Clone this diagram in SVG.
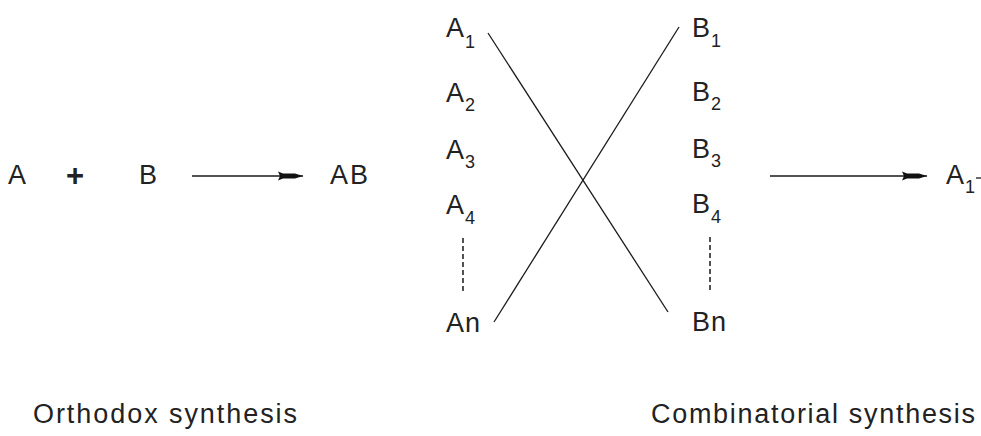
<svg xmlns="http://www.w3.org/2000/svg" width="981" height="436" viewBox="0 0 981 436">
<style>
  .t { font-family: "Liberation Sans", Arial, sans-serif; font-size: 27px; fill: #222222; }
  .s { font-size: 18px; }
  .ln { stroke: #1a1a1a; stroke-width: 1.3; fill: none; }
  .dash { stroke: #1a1a1a; stroke-width: 1.5; stroke-dasharray: 5 3; fill: none; }
</style>
<defs>
  <marker id="ah" markerUnits="userSpaceOnUse" markerWidth="30" markerHeight="14" refX="25" refY="7" orient="auto" overflow="visible">
    <path d="M0,2.5 L5,4.5 L17,4.5 L25,7 L17,9.5 L5,9.5 L0,11.5 L2,7 Z" fill="#111"/>
  </marker>
</defs>
<rect width="981" height="436" fill="#ffffff"/>

<g id="orthodox">
  <text class="t" x="8" y="184">A</text>
  <text class="t" x="66" y="186" style="font-weight:bold;font-size:31px">+</text>
  <text class="t" x="139" y="184">B</text>
  <text class="t" x="330" y="184" letter-spacing="2">AB</text>
</g>

<g id="A-list">
  <text class="t" x="446" y="37">A<tspan class="s" dx="1" dy="11">1</tspan></text>
  <text class="t" x="446" y="102">A<tspan class="s" dx="1" dy="9">2</tspan></text>
  <text class="t" x="446" y="159">A<tspan class="s" dx="1" dy="9">3</tspan></text>
  <text class="t" x="446" y="214">A<tspan class="s" dx="1" dy="10">4</tspan></text>
  <text class="t" x="446" y="332" letter-spacing="1">An</text>
</g>

<g id="B-list">
  <text class="t" x="692" y="37">B<tspan class="s" dx="1" dy="10">1</tspan></text>
  <text class="t" x="692" y="101">B<tspan class="s" dx="1" dy="9">2</tspan></text>
  <text class="t" x="692" y="158">B<tspan class="s" dx="1" dy="9">3</tspan></text>
  <text class="t" x="692" y="213">B<tspan class="s" dx="1" dy="10">4</tspan></text>
  <text class="t" x="692" y="331" letter-spacing="1">Bn</text>
</g>

<g id="product">
  <text class="t" x="946" y="184">A<tspan class="s" dx="1" dy="9">1</tspan></text>
  <line class="ln" x1="976" y1="178" x2="981" y2="178"/>
</g>

<g id="labels">
  <text class="t" x="33" y="423" textLength="264" lengthAdjust="spacing">Orthodox synthesis</text>
  <text class="t" x="651" y="423" textLength="324" lengthAdjust="spacing">Combinatorial synthesis</text>
</g>

<g id="connectors">
  <line class="ln" x1="192" y1="176" x2="303" y2="176" marker-end="url(#ah)"/>
  <line class="ln" x1="770" y1="176" x2="927" y2="176" marker-end="url(#ah)"/>
  <line class="ln" x1="488" y1="33" x2="668" y2="312"/>
  <line class="ln" x1="494" y1="322" x2="679" y2="27"/>
  <line class="dash" x1="463" y1="238" x2="463" y2="292"/>
  <line class="dash" x1="710" y1="237" x2="710" y2="293"/>
</g>
</svg>
